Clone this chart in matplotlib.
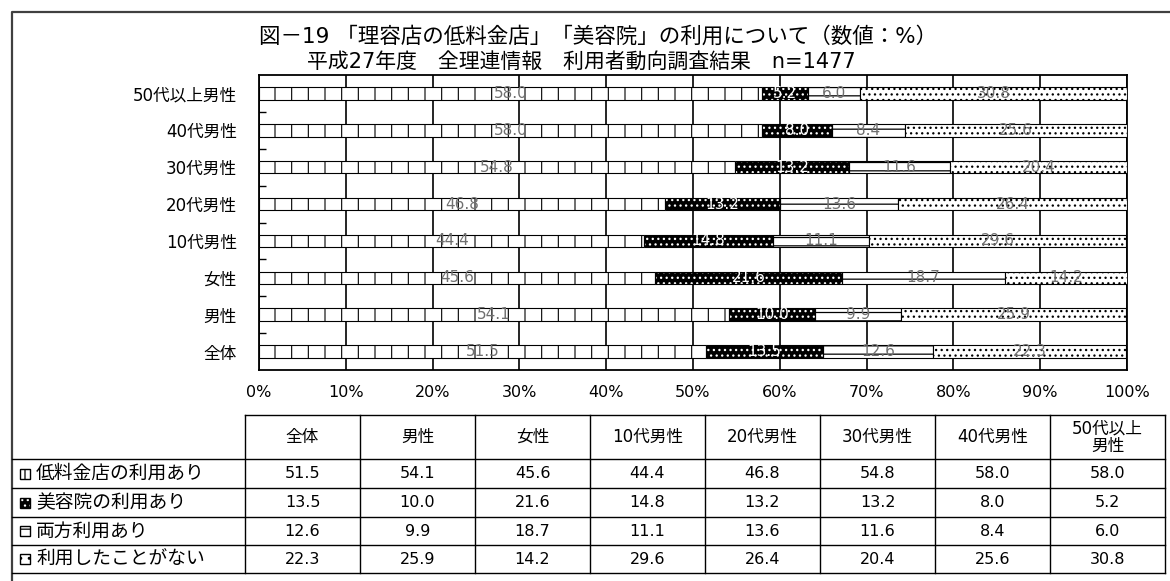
import numpy as np
import matplotlib
matplotlib.use("Agg")
import matplotlib.pyplot as plt
from matplotlib.lines import Line2D
from matplotlib.patches import Rectangle

# Latin glyphs from DejaVu Sans, Japanese glyphs fall back to Noto Sans CJK JP
plt.rcParams['font.family'] = ['DejaVu Sans', 'Noto Sans CJK JP']
plt.rcParams['hatch.linewidth'] = 0.9

# ---- data -------------------------------------------------------------
categories = ['全体', '男性', '女性', '10代男性', '20代男性', '30代男性', '40代男性', '50代以上男性']
header_labels = ['全体', '男性', '女性', '10代男性', '20代男性', '30代男性', '40代男性', '50代以上\n男性']
series_names = ['低料金店の利用あり', '美容院の利用あり', '両方利用あり', '利用したことがない']

low_price = [51.5, 54.1, 45.6, 44.4, 46.8, 54.8, 58.0, 58.0]
beauty_salon = [13.5, 10.0, 21.6, 14.8, 13.2, 13.2, 8.0, 5.2]
both = [12.6, 9.9, 18.7, 11.1, 13.6, 11.6, 8.4, 6.0]
never = [22.3, 25.9, 14.2, 29.6, 26.4, 20.4, 25.6, 30.8]

x_ticks = [0, 10, 20, 30, 40, 50, 60, 70, 80, 90, 100]
x_tick_labels = [f'{t}%' for t in x_ticks]

title_1 = '図－19 「理容店の低料金店」「美容院」の利用について（数値：%）'
title_2 = '平成27年度　全理連情報　利用者動向調査結果　n=1477'

# ---- figure geometry (pixel helpers) ----------------------------------
W, H = 1170, 581
fig = plt.figure(figsize=(W / 100, H / 100), dpi=100)
fig.patch.set_facecolor('white')


def fx(x):
    return x / W


def fy(y):
    return 1 - y / H


# outer frame (top and left edges)
fig.add_artist(Line2D([fx(12), fx(12), fx(1170)], [fy(581), fy(12), fy(12)],
                      transform=fig.transFigure, color='#404040', lw=1.6))

# ---- stacked bar chart -------------------------------------------------
ax = fig.add_axes([fx(259), fy(370), (1127 - 259) / W, (370 - 75) / H])
ypos = np.arange(len(categories))
bar_h = 0.34

lo = np.array(low_price)
bs = np.array(beauty_salon)
bo = np.array(both)
nv = np.array(never)

with plt.rc_context({'hatch.linewidth': 0.8}):
    c1 = ax.barh(ypos, lo, height=bar_h, color='white', edgecolor='black',
                 hatch='|', linewidth=0.8, zorder=3)
c2 = ax.barh(ypos, bs, left=lo, height=bar_h, color='black', edgecolor='white',
             hatch='...', linewidth=0.5, zorder=3)
ax.barh(ypos, bs, left=lo, height=bar_h, fill=False, edgecolor='black',
        linewidth=0.8, zorder=4)
c3 = ax.barh(ypos, bo, left=lo + bs, height=bar_h, color='white', edgecolor='black',
             hatch='--', linewidth=0.8, zorder=3)
c4 = ax.barh(ypos, nv, left=lo + bs + bo, height=bar_h, color='white', edgecolor='black',
             hatch='...', linewidth=0.8, zorder=3)

label_kw = dict(label_type='center', fontsize=11, zorder=6)
ax.bar_label(c1, labels=[f'{v:.1f}' for v in low_price], color='#707070', **label_kw)
ax.bar_label(c2, labels=[f'{v:.1f}' for v in beauty_salon], color='white', **label_kw)
ax.bar_label(c3, labels=[f'{v:.1f}' for v in both], color='#707070', **label_kw)
ax.bar_label(c4, labels=[f'{v:.1f}' for v in never], color='#707070', **label_kw)

ax.set_xlim(0, 100)
ax.set_ylim(-0.5, len(categories) - 0.5)
ax.set_xticks(x_ticks)
ax.set_xticklabels(x_tick_labels, fontsize=11.5)
ax.tick_params(axis='x', length=0, pad=11)
ax.set_yticks(ypos)
ax.set_yticklabels(categories, fontsize=12)
ax.tick_params(axis='y', which='major', length=0, pad=16)
ax.set_yticks(np.arange(0.5, len(categories) - 1, 1), minor=True)
ax.tick_params(axis='y', which='minor', direction='in', length=5, width=1.0, color='black')
ax.grid(axis='x', color='black', linewidth=1.2, zorder=1)
ax.set_axisbelow(True)
for sp in ax.spines.values():
    sp.set_color('black')
    sp.set_linewidth(1.3)

# ---- titles ------------------------------------------------------------
fig.text(fx(598), fy(36), title_1, ha='center', va='center', fontsize=15.5)
fig.text(fx(581), fy(62), title_2, ha='center', va='center', fontsize=15)

# ---- data table --------------------------------------------------------
col_x0, col_w = 245, 115
n_cols = len(header_labels)
col_edges = [col_x0 + i * col_w for i in range(n_cols + 1)]
head_top, head_bot = 415, 459
row_edges = [459, 488, 517, 545, 573]

line_kw = dict(transform=fig.transFigure, color='black', lw=1.0)
fig.add_artist(Line2D([fx(col_edges[0]), fx(col_edges[-1])], [fy(head_top)] * 2, **line_kw))
for ry in row_edges:
    fig.add_artist(Line2D([fx(12), fx(col_edges[-1])], [fy(ry)] * 2, **line_kw))
for cx in col_edges:
    fig.add_artist(Line2D([fx(cx)] * 2, [fy(head_top), fy(row_edges[-1])], **line_kw))

for i, hl in enumerate(header_labels):
    cx = col_x0 + (i + 0.5) * col_w
    fig.text(fx(cx), fy((head_top + head_bot) / 2), hl, ha='center', va='center',
             fontsize=12, linespacing=1.0)

table_rows = [low_price, beauty_salon, both, never]
key_styles = [
    dict(facecolor='white', edgecolor='black', hatch='|'),
    dict(facecolor='black', edgecolor='white', hatch='...'),
    dict(facecolor='white', edgecolor='black', hatch='--'),
    dict(facecolor='white', edgecolor='black', hatch='..'),
]
for r, (name, vals, style) in enumerate(zip(series_names, table_rows, key_styles)):
    cy = (row_edges[r] + row_edges[r + 1]) / 2
    fig.add_artist(Rectangle((fx(20), fy(cy + 5)), 10 / W, 10 / H, transform=fig.transFigure,
                             linewidth=0.6, **style))
    fig.add_artist(Rectangle((fx(20), fy(cy + 5)), 10 / W, 10 / H, transform=fig.transFigure,
                             fill=False, edgecolor='black', linewidth=1.0))
    fig.text(fx(36), fy(cy), name, ha='left', va='center', fontsize=13.5)
    for i, v in enumerate(vals):
        cx = col_x0 + (i + 0.5) * col_w
        fig.text(fx(cx), fy(cy), f'{v:.1f}', ha='center', va='center', fontsize=11.5)

fig.savefig('out.png', dpi=100, facecolor='white')
